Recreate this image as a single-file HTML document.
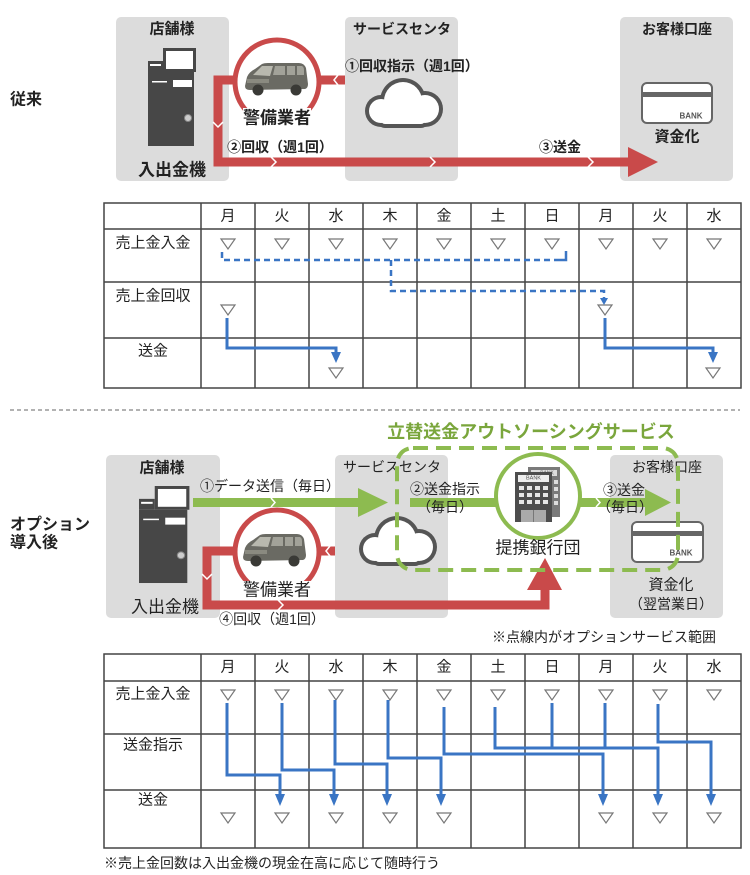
<!DOCTYPE html>
<html><head><meta charset="utf-8"><style>html,body{margin:0;padding:0;background:#fff}svg{display:block}</style></head><body>
<svg width="750" height="875" viewBox="0 0 750 875" xmlns="http://www.w3.org/2000/svg" font-family="'Liberation Sans','Noto Sans CJK JP',sans-serif" fill="#222">
<defs>
<g id="cloud">
<g fill="#555"><circle cx="18" cy="34" r="16"/><circle cx="40" cy="24" r="23"/><circle cx="62" cy="32" r="18"/><rect x="14" y="28" width="52" height="23" rx="8"/></g>
<g fill="#fff"><circle cx="18" cy="34" r="12"/><circle cx="40" cy="24" r="19"/><circle cx="62" cy="32" r="14"/><rect x="18" y="30" width="44" height="17" rx="4"/></g>
</g>
<g id="atm">
<rect x="15" y="0" width="33" height="24" fill="#474747"/><rect x="18" y="3" width="27" height="18" fill="#fff"/>
<rect x="0" y="13" width="15" height="11" fill="#474747"/><rect x="2" y="16" width="11" height="2" fill="#fff"/>
<rect x="0" y="24" width="46" height="74" fill="#474747"/>
<rect x="25" y="32" width="19" height="7" fill="#fff"/><rect x="4" y="33" width="15" height="1.5" fill="#fff"/>
<circle cx="40" cy="70" r="3.5" fill="#ccc" stroke="#888" stroke-width="1"/>
</g>
<g id="van">
<path d="M3,24 L5,15 Q7,10 13,7 L20,2 Q22,1 26,1 L57,1 Q62,1 64,6 L66,22 Q66,26 63,27 L8,28 Q3,28 3,24 Z" fill="#6a6a63"/>
<path d="M11,13 L20,4 L31,4 L28,14 Z" fill="#b8b8ae"/>
<path d="M33,4 H43 V13 H31 Z" fill="#a2a299"/><rect x="45" y="4" width="8" height="9" fill="#a2a299"/><path d="M55,4 H60 Q62,5 62,8 V13 H55Z" fill="#a2a299"/>
<rect x="5" y="17" width="22" height="4" fill="#8a8a80"/>
<circle cx="16" cy="28" r="5.5" fill="#3a3a36"/><circle cx="54" cy="28" r="5.5" fill="#3a3a36"/>
</g>
</defs>

<!-- ========== TOP ========== -->
<text x="10" y="100" font-size="16" font-weight="bold" dominant-baseline="central">従来</text>
<rect x="116" y="17" width="113" height="164" rx="5" fill="#dcdcdc"/>
<rect x="345" y="17" width="113" height="164" rx="5" fill="#dcdcdc"/>
<rect x="620" y="17" width="113" height="164" rx="5" fill="#dcdcdc"/>
<text x="172" y="29" font-size="15" font-weight="bold" text-anchor="middle" dominant-baseline="central">店舗様</text>
<text x="402" y="29" font-size="14" font-weight="bold" text-anchor="middle" dominant-baseline="central">サービスセンタ</text>
<text x="677" y="29" font-size="14" font-weight="bold" text-anchor="middle" dominant-baseline="central">お客様口座</text>
<use href="#atm" transform="translate(148,48)"/>
<text x="172" y="170" font-size="17" font-weight="bold" text-anchor="middle" dominant-baseline="central">入出金機</text>

<path d="M345,80 H218 V162 H630" stroke="#c94a4a" stroke-width="9" fill="none"/>
<polygon points="628,147 658,162 628,177" fill="#c94a4a"/>
<g stroke="#fff" stroke-width="1.5" fill="none">
<polyline points="338,75 334,80 338,85"/>
<polyline points="213,122 218,127 223,122"/>
<polyline points="271,157 276,162 271,167"/>
<polyline points="430,157 435,162 430,167"/>
<polyline points="588,157 593,162 588,167"/>
</g>
<circle cx="277" cy="82" r="42" fill="#fff" stroke="#c94a4a" stroke-width="5"/>
<use href="#van" transform="translate(242,62)"/>
<rect x="243" y="108" width="68" height="20" fill="#fff"/>
<text x="277" y="118" font-size="17" font-weight="bold" text-anchor="middle" dominant-baseline="central">警備業者</text>
<text x="280" y="147" font-size="14" font-weight="bold" text-anchor="middle" dominant-baseline="central">②回収（週1回）</text>
<text x="345" y="66" font-size="14" font-weight="bold" dominant-baseline="central">①回収指示（週1回）</text>
<use href="#cloud" transform="translate(363,77)"/>
<text x="560" y="147" font-size="14" font-weight="bold" text-anchor="middle" dominant-baseline="central">③送金</text>
<rect x="642" y="83" width="70" height="40" rx="5" fill="#fff" stroke="#666" stroke-width="2"/>
<rect x="643" y="92" width="68" height="5" fill="#666"/>
<text x="691" y="116" font-size="8" font-weight="bold" fill="#555" text-anchor="middle" dominant-baseline="central">BANK</text>
<text x="677" y="137" font-size="15" font-weight="bold" text-anchor="middle" dominant-baseline="central">資金化</text>

<!-- ========== TOP TABLE ========== -->
<g stroke="#444" stroke-width="1.5" fill="none">
<rect x="104" y="203" width="637" height="185"/>
<line x1="104" y1="229" x2="741" y2="229"/><line x1="104" y1="282" x2="741" y2="282"/><line x1="104" y1="338" x2="741" y2="338"/>
<line x1="201" y1="203" x2="201" y2="388"/><line x1="255" y1="203" x2="255" y2="388"/><line x1="309" y1="203" x2="309" y2="388"/><line x1="363" y1="203" x2="363" y2="388"/><line x1="417" y1="203" x2="417" y2="388"/><line x1="471" y1="203" x2="471" y2="388"/><line x1="525" y1="203" x2="525" y2="388"/><line x1="579" y1="203" x2="579" y2="388"/><line x1="633" y1="203" x2="633" y2="388"/><line x1="687" y1="203" x2="687" y2="388"/>
</g>
<g font-size="15" text-anchor="middle" dominant-baseline="central">
<text x="228" y="216">月</text><text x="282" y="216">火</text><text x="336" y="216">水</text><text x="390" y="216">木</text><text x="444" y="216">金</text><text x="498" y="216">土</text><text x="552" y="216">日</text><text x="606" y="216">月</text><text x="660" y="216">火</text><text x="714" y="216">水</text>
<text x="153" y="243">売上金入金</text><text x="153" y="296">売上金回収</text><text x="153" y="351">送金</text>
</g>
<g fill="#fff" stroke="#777" stroke-width="1.2">
<polygon points="221,239 235,239 228,249"/><polygon points="275,239 289,239 282,249"/><polygon points="329,239 343,239 336,249"/><polygon points="383,239 397,239 390,249"/><polygon points="437,239 451,239 444,249"/><polygon points="491,239 505,239 498,249"/><polygon points="545,239 559,239 552,249"/><polygon points="599,239 613,239 606,249"/><polygon points="653,239 667,239 660,249"/><polygon points="707,239 721,239 714,249"/>
<polygon points="221,305 235,305 228,315"/><polygon points="598,305 612,305 605,315"/>
<polygon points="329,368 343,368 336,378"/><polygon points="706,368 720,368 713,378"/>
</g>
<g stroke="#3a75c4" fill="none">
<path d="M222,252 V260 H562" stroke-width="2.5" stroke-dasharray="6 4"/>
<path d="M560,260 H566 V251" stroke-width="2.5"/>
<path d="M391,260 V291 H604 V299" stroke-width="2.5" stroke-dasharray="6 4"/>
<path d="M227,318 V348 H336 V354" stroke-width="3"/>
<path d="M605,318 V348 H713 V354" stroke-width="3"/>
</g>
<g fill="#3a75c4">
<polygon points="600,298 608,298 604,305"/>
<polygon points="331,352 341,352 336,363"/>
<polygon points="708,352 718,352 713,363"/>
</g>

<line x1="10" y1="410" x2="740" y2="410" stroke="#666" stroke-width="1" stroke-dasharray="4 3"/>

<!-- ========== BOTTOM ========== -->
<text x="10" y="525" font-size="16" font-weight="bold" dominant-baseline="central">オプション</text>
<text x="10" y="543" font-size="16" font-weight="bold" dominant-baseline="central">導入後</text>
<text x="531" y="432" font-size="18" font-weight="bold" fill="#7aa63c" text-anchor="middle" dominant-baseline="central">立替送金アウトソーシングサービス</text>

<rect x="106" y="455" width="114" height="163" rx="5" fill="#dcdcdc"/>
<rect x="335" y="455" width="113" height="163" rx="5" fill="#dcdcdc"/>
<rect x="610" y="455" width="113" height="163" rx="5" fill="#dcdcdc"/>
<text x="162" y="468" font-size="15" font-weight="bold" text-anchor="middle" dominant-baseline="central">店舗様</text>
<text x="392" y="467" font-size="14" text-anchor="middle" dominant-baseline="central">サービスセンタ</text>
<text x="667" y="467" font-size="14" text-anchor="middle" dominant-baseline="central">お客様口座</text>
<use href="#atm" transform="translate(139,486) scale(1.05,0.99)"/>
<text x="165" y="607" font-size="17" text-anchor="middle" dominant-baseline="central">入出金機</text>

<!-- red path -->
<path d="M335,551 H207 V605 H545 V588" stroke="#c94a4a" stroke-width="9" fill="none"/>
<polygon points="527,590 545,558 562,590" fill="#c94a4a"/>
<g stroke="#fff" stroke-width="1.5" fill="none">
<polyline points="330,546 326,551 330,556"/>
<polyline points="202,574 207,579 212,574"/>
<polyline points="278,600 283,605 278,610"/>
</g>
<circle cx="277" cy="552" r="42" fill="#fff" stroke="#c94a4a" stroke-width="5"/>
<use href="#van" transform="translate(240,533)"/>
<rect x="243" y="581" width="68" height="18" fill="#fff"/>
<text x="277" y="590" font-size="17" text-anchor="middle" dominant-baseline="central">警備業者</text>
<text x="272" y="619" font-size="14" text-anchor="middle" dominant-baseline="central">④回収（週1回）</text>

<!-- green arrows -->
<rect x="193" y="498" width="168" height="9" fill="#8dbb50"/>
<polygon points="358,488 388,502.5 358,517" fill="#8dbb50"/>
<rect x="410" y="498" width="90" height="9" fill="#8dbb50"/>
<rect x="578" y="498" width="69" height="9" fill="#8dbb50"/>
<polygon points="645,489 671,502.5 645,516" fill="#8dbb50"/>
<g stroke="#fff" stroke-width="1.5" fill="none">
<polyline points="271,498 275,502.5 271,507"/>
<polyline points="596,498 600,502.5 596,507"/>
</g>
<use href="#cloud" transform="translate(357,515)"/>

<circle cx="538" cy="496" r="42" fill="#fff" stroke="#8dbb50" stroke-width="4"/>
<!-- building -->
<rect x="528" y="467" width="32" height="50" fill="#7a7a7a"/>
<rect x="531" y="470" width="26" height="6" fill="#ddd"/>
<text x="547" y="473.5" font-size="5" fill="#666" text-anchor="middle" dominant-baseline="central">BANK</text>
<g fill="#ddd"><rect x="554" y="480" width="4" height="4"/><rect x="554" y="487" width="4" height="4"/><rect x="554" y="494" width="4" height="4"/><rect x="554" y="501" width="4" height="4"/></g>
<rect x="515" y="472" width="37" height="50" fill="#4d4d4d"/>
<rect x="518" y="475" width="31" height="7" fill="#eee"/>
<text x="533.5" y="478.5" font-size="5.5" fill="#555" text-anchor="middle" dominant-baseline="central">BANK</text>
<g fill="#e6e6e6">
<rect x="519" y="486" width="5" height="4"/><rect x="527" y="486" width="5" height="4"/><rect x="535" y="486" width="5" height="4"/><rect x="543" y="486" width="5" height="4"/>
<rect x="519" y="493" width="5" height="4"/><rect x="527" y="493" width="5" height="4"/><rect x="535" y="493" width="5" height="4"/><rect x="543" y="493" width="5" height="4"/>
<rect x="519" y="500" width="5" height="4"/><rect x="527" y="500" width="5" height="4"/><rect x="535" y="500" width="5" height="4"/><rect x="543" y="500" width="5" height="4"/>
</g>
<rect x="521" y="510" width="25" height="12" fill="#aaa"/><line x1="533.5" y1="510" x2="533.5" y2="522" stroke="#777" stroke-width="1"/>
<text x="538" y="548" font-size="17" text-anchor="middle" dominant-baseline="central">提携銀行団</text>

<text x="410" y="489" font-size="14" dominant-baseline="central">②送金指示</text>
<text x="445" y="507" font-size="14" text-anchor="middle" dominant-baseline="central">（毎日）</text>
<text x="270" y="486" font-size="14" text-anchor="middle" dominant-baseline="central">①データ送信（毎日）</text>
<text x="603" y="490" font-size="14" dominant-baseline="central">③送金</text>
<text x="625" y="507" font-size="14" text-anchor="middle" dominant-baseline="central">（毎日）</text>

<rect x="632" y="522" width="71" height="40" rx="5" fill="#fff" stroke="#666" stroke-width="2"/>
<rect x="633" y="531" width="69" height="5" fill="#666"/>
<text x="681" y="553" font-size="8" font-weight="bold" fill="#555" text-anchor="middle" dominant-baseline="central">BANK</text>
<text x="671" y="585" font-size="15" text-anchor="middle" dominant-baseline="central">資金化</text>
<text x="671" y="604" font-size="14" text-anchor="middle" dominant-baseline="central">（翌営業日）</text>

<rect x="397" y="448" width="281" height="122" rx="16" fill="none" stroke="#8dbb50" stroke-width="4" stroke-dasharray="15 8"/>
<text x="492" y="637" font-size="14" dominant-baseline="central">※点線内がオプションサービス範囲</text>

<!-- ========== BOTTOM TABLE ========== -->
<g stroke="#444" stroke-width="1.5" fill="none">
<rect x="104" y="654" width="637" height="194"/>
<line x1="104" y1="681" x2="741" y2="681"/><line x1="104" y1="734" x2="741" y2="734"/><line x1="104" y1="790" x2="741" y2="790"/>
<line x1="201" y1="654" x2="201" y2="848"/><line x1="255" y1="654" x2="255" y2="848"/><line x1="309" y1="654" x2="309" y2="848"/><line x1="363" y1="654" x2="363" y2="848"/><line x1="417" y1="654" x2="417" y2="848"/><line x1="471" y1="654" x2="471" y2="848"/><line x1="525" y1="654" x2="525" y2="848"/><line x1="579" y1="654" x2="579" y2="848"/><line x1="633" y1="654" x2="633" y2="848"/><line x1="687" y1="654" x2="687" y2="848"/>
</g>
<g font-size="15" text-anchor="middle" dominant-baseline="central">
<text x="228" y="667">月</text><text x="282" y="667">火</text><text x="336" y="667">水</text><text x="390" y="667">木</text><text x="444" y="667">金</text><text x="498" y="667">土</text><text x="552" y="667">日</text><text x="606" y="667">月</text><text x="660" y="667">火</text><text x="714" y="667">水</text>
<text x="153" y="694">売上金入金</text><text x="153" y="745">送金指示</text><text x="153" y="800">送金</text>
</g>
<g fill="#fff" stroke="#777" stroke-width="1.2">
<polygon points="221,690 235,690 228,700"/><polygon points="275,690 289,690 282,700"/><polygon points="329,690 343,690 336,700"/><polygon points="383,690 397,690 390,700"/><polygon points="437,690 451,690 444,700"/><polygon points="491,690 505,690 498,700"/><polygon points="545,690 559,690 552,700"/><polygon points="599,690 613,690 606,700"/><polygon points="653,690 667,690 660,700"/><polygon points="707,690 721,690 714,700"/>
<polygon points="221,813 235,813 228,823"/><polygon points="275,813 289,813 282,823"/><polygon points="329,813 343,813 336,823"/><polygon points="383,813 397,813 390,823"/><polygon points="437,813 451,813 444,823"/><polygon points="599,813 613,813 606,823"/><polygon points="653,813 667,813 660,823"/><polygon points="707,813 721,813 714,823"/>
</g>
<g stroke="#3a75c4" stroke-width="3" fill="none">
<path d="M227,703 V775 H280 V796"/>
<path d="M282,703 V770 H334 V796"/>
<path d="M335,700 V764 H387 V796"/>
<path d="M388,700 V758 H441 V796"/>
<path d="M444,707 V754 H603 V796"/>
<path d="M495,707 V748 H658 V796"/>
<path d="M552,703 V748"/>
<path d="M605,703 V748"/>
<path d="M658,704 V742 H711 V796"/>
</g>
<g fill="#3a75c4">
<polygon points="275,794 285,794 280,806"/>
<polygon points="329,794 339,794 334,806"/>
<polygon points="382,794 392,794 387,806"/>
<polygon points="436,794 446,794 441,806"/>
<polygon points="598,794 608,794 603,806"/>
<polygon points="653,794 663,794 658,806"/>
<polygon points="706,794 716,794 711,806"/>
</g>
<text x="104" y="863" font-size="14" dominant-baseline="central">※売上金回数は入出金機の現金在高に応じて随時行う</text>
</svg>
</body></html>
